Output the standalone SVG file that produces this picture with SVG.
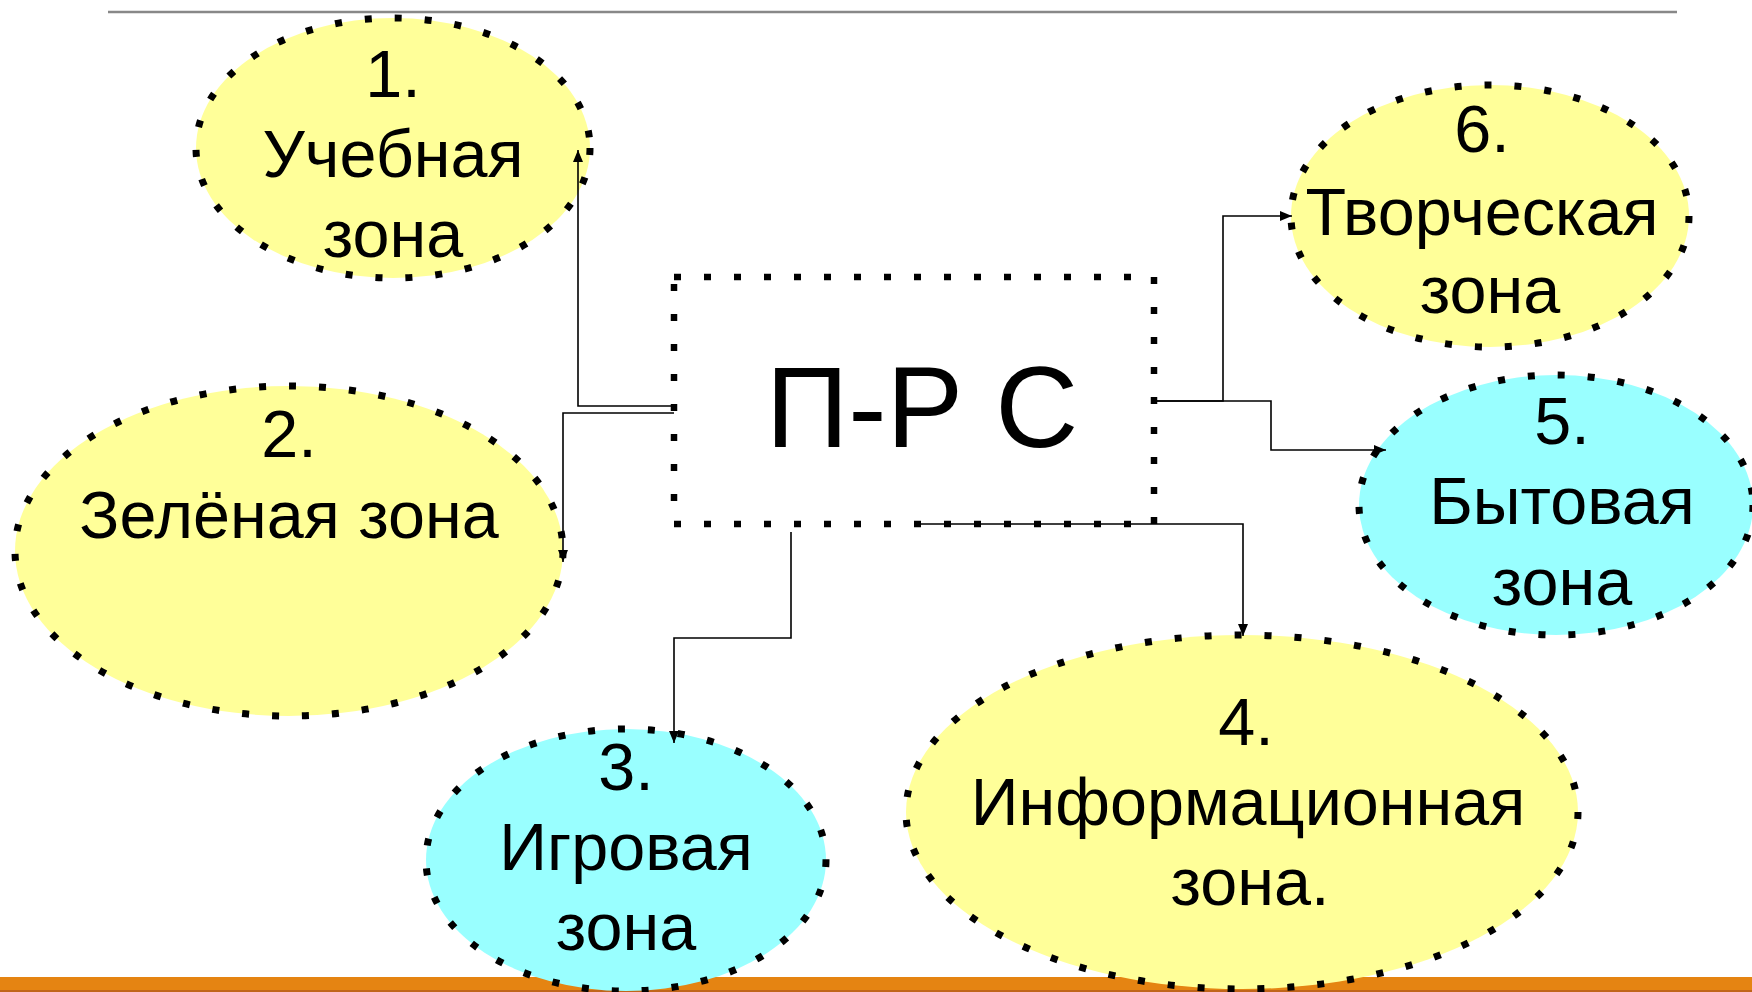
<svg xmlns="http://www.w3.org/2000/svg" width="1752" height="992" viewBox="0 0 1752 992">
<style>
.zone{stroke:#000;stroke-width:7;stroke-dasharray:7 23}
.yel{fill:#FFFF99}
.cy{fill:#99FFFF}
.t{font-family:"Liberation Sans",Arial,sans-serif;font-size:66.5px;fill:#000;text-anchor:middle}
.conn{fill:none;stroke:#000;stroke-width:1.6}
</style>
<defs>
<marker id="arr" viewBox="0 0 12 10" refX="12" refY="5" markerWidth="12" markerHeight="10" orient="auto" markerUnits="userSpaceOnUse">
<path d="M0,0 L12,5 L0,10 z" fill="#000"/>
</marker>
</defs>
<rect x="0" y="0" width="1752" height="992" fill="#fff"/>
<line x1="108" y1="12" x2="1677" y2="12" stroke="#888" stroke-width="2.5"/>
<rect x="0" y="977" width="1752" height="15" fill="#E58412"/>
<rect x="0" y="990" width="1752" height="2" fill="#C0651A"/>

<g id="zone1">
<ellipse class="zone yel" cx="393" cy="148" rx="197" ry="130"/>
<text class="t" x="393" y="97">1.</text>
<text class="t" x="393" y="177">Учебная</text>
<text class="t" x="393" y="257">зона</text>
</g>
<g id="zone2">
<ellipse class="zone yel" cx="289" cy="551" rx="274" ry="165"/>
<text class="t" x="289" y="457">2.</text>
<text class="t" x="289" y="538">Зелёная зона</text>
</g>
<g id="zone3">
<ellipse class="zone cy" cx="626" cy="860" rx="200" ry="131"/>
<text class="t" x="626" y="790">3.</text>
<text class="t" x="626" y="870">Игровая</text>
<text class="t" x="626" y="950">зона</text>
</g>
<g id="zone4">
<ellipse class="zone yel" cx="1242" cy="812" rx="336" ry="177"/>
<text class="t" x="1246" y="745">4.</text>
<text class="t" x="1248" y="825">Информационная</text>
<text class="t" x="1250" y="905">зона.</text>
</g>
<g id="zone5">
<ellipse class="zone cy" cx="1556" cy="505" rx="197" ry="130"/>
<text class="t" x="1562" y="444">5.</text>
<text class="t" x="1562" y="524">Бытовая</text>
<text class="t" x="1562" y="605">зона</text>
</g>
<g id="zone6">
<ellipse class="zone yel" cx="1490" cy="216" rx="199" ry="131"/>
<text class="t" x="1482" y="152">6.</text>
<text class="t" x="1482" y="235">Творческая</text>
<text class="t" x="1490" y="313">зона</text>
</g>
<g id="center">
<rect x="674" y="277" width="480" height="247" fill="#fff" stroke="#000" stroke-width="6.5" stroke-dasharray="7 23"/>
<text x="922" y="447" font-family="'Liberation Sans',Arial,sans-serif" font-size="115" text-anchor="middle" fill="#000">П-Р С</text>
</g>
<g id="connectors">
<path class="conn" d="M674,406 H578 V150" marker-end="url(#arr)"/>
<path class="conn" d="M674,413 H563 V562" marker-end="url(#arr)"/>
<path class="conn" d="M791,532 V638 H674 V743" marker-end="url(#arr)"/>
<path class="conn" d="M914,524 H1243 V636" marker-end="url(#arr)"/>
<path class="conn" d="M1154,401 H1223 V216 H1292" marker-end="url(#arr)"/>
<path class="conn" d="M1154,401 H1271 V450 H1386" marker-end="url(#arr)"/>
</g>
</svg>
